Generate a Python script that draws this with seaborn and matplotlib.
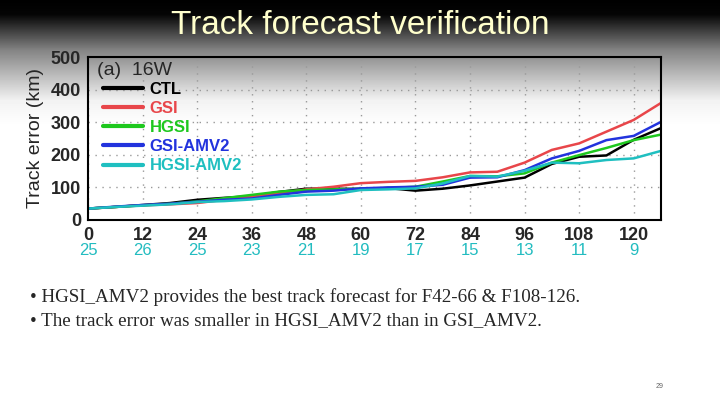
import numpy as np
import pandas as pd
import matplotlib
matplotlib.use("Agg")
import matplotlib.pyplot as plt
import matplotlib.transforms as mtransforms
import seaborn as sns

# forecast lead time (h) and track error (km) per experiment
hours = [0, 6, 12, 18, 24, 30, 36, 42, 48, 54, 60, 66, 72, 78, 84, 90, 96, 102, 108, 114, 120, 126]
ctl = [35, 40, 46, 52, 62, 68, 73, 86, 96, 96, 95, 98, 90, 96, 106, 118, 130, 172, 194, 198, 246, 282]
gsi = [35, 40, 45, 48, 52, 62, 72, 82, 94, 102, 113, 117, 120, 131, 146, 148, 176, 215, 235, 271, 307, 359]
hgsi = [35, 40, 45, 50, 57, 67, 77, 87, 92, 94, 96, 98, 102, 118, 135, 134, 143, 176, 199, 221, 245, 262]
gsi_amv2 = [35, 41, 46, 50, 56, 62, 66, 77, 87, 90, 97, 100, 102, 108, 130, 131, 153, 189, 212, 245, 258, 301]
hgsi_amv2 = [35, 40, 44, 48, 55, 58, 63, 71, 77, 79, 92, 94, 97, 112, 135, 133, 151, 176, 174, 184, 189, 212]

names = ["CTL", "GSI", "HGSI", "GSI-AMV2", "HGSI-AMV2"]
colors = ["#000000", "#e8464a", "#1ec81e", "#2233dd", "#1fbfc0"]

tick_hours = [0, 12, 24, 36, 48, 60, 72, 84, 96, 108, 120]
case_counts = [25, 26, 25, 23, 21, 19, 17, 15, 13, 11, 9]

bullets = ["HGSI_AMV2 provides the best track forecast for F42-66 & F108-126.",
           "The track error was smaller in HGSI_AMV2 than in GSI_AMV2."]

rows = []
for n, vals in zip(names, [ctl, gsi, hgsi, gsi_amv2, hgsi_amv2]):
    for h, v in zip(hours, vals):
        rows.append({"hour": h, "error": v, "exp": n})
df = pd.DataFrame(rows)

sns.set_style("white")
chart_font = ["Liberation Sans", "DejaVu Sans"]
serif_font = ["Liberation Serif", "DejaVu Serif"]
plt.rcParams["font.family"] = chart_font

fig = plt.figure(figsize=(7.2, 4.05), dpi=100)

# slide background: dark header fading to white
bg = fig.add_axes([0, 0, 1, 1])
rows_px = np.arange(405)
shade = np.interp(rows_px, [0, 14, 50, 100, 125], [0.0, 0.02, 0.52, 0.95, 1.0])
grad = np.repeat(shade[:, None], 2, axis=1)
bg.imshow(grad, cmap="gray", vmin=0, vmax=1, aspect="auto", extent=[0, 1, 0, 1], origin="upper")
bg.set_axis_off()

fig.text(0.5, 1 - 25 / 405, "Track forecast verification", ha="center", va="center",
         fontsize=24, color="#ffffcc")

ax = fig.add_axes([88 / 720, 1 - 220 / 405, (661 - 88) / 720, (220 - 57) / 405])
ax.patch.set_alpha(0)
sns.lineplot(data=df, x="hour", y="error", hue="exp", hue_order=names,
             palette=colors, linewidth=1.8, ax=ax, legend=True)

ax.set_xlim(0, 126)
ax.set_ylim(0, 500)
ax.set_xticks(tick_hours)
ax.set_yticks(range(0, 501, 100))
ax.set_xticklabels([str(t) for t in tick_hours], fontsize=13, fontweight="bold")
ax.set_yticklabels([str(t) for t in range(0, 501, 100)], fontsize=13, fontweight="bold")
ax.tick_params(direction="out", length=4, width=1.2, pad=1)
ax.grid(True, linestyle=(0, (1, 4)), color="#999999", linewidth=1)
for s in ax.spines.values():
    s.set_linewidth(1.5)
    s.set_color("black")
ax.set_xlabel("")
ax.set_ylabel("Track error (km)", fontsize=14, labelpad=5)

trans = mtransforms.blended_transform_factory(ax.transData, ax.transAxes)
for h, c in zip(tick_hours, case_counts):
    ax.text(h, -0.19, str(c), transform=trans, ha="center", va="center",
            fontsize=12, color="#22bcc0")

handles, labels = ax.get_legend_handles_labels()
for hd in handles:
    hd.set_linewidth(3)
leg = ax.legend(handles, labels, loc="upper left", bbox_to_anchor=(0.0, 0.94),
                frameon=False, handlelength=2.4, handletextpad=0.4,
                labelspacing=0.25, labelcolor="linecolor",
                prop={"weight": "bold", "size": 12})
ax.text(0.016, 0.92, "(a)  16W", transform=ax.transAxes, fontsize=14, va="center")

fig.text(30 / 720, 1 - 297 / 405, "\u2022 " + bullets[0], fontsize=13.7,
         family=serif_font, va="center")
fig.text(30 / 720, 1 - 321 / 405, "\u2022 " + bullets[1], fontsize=13.7,
         family=serif_font, va="center")
fig.text(660 / 720, 1 - 386 / 405, "29", fontsize=5, color="#666666", va="center", ha="center")

fig.savefig("out.png", dpi=100)
